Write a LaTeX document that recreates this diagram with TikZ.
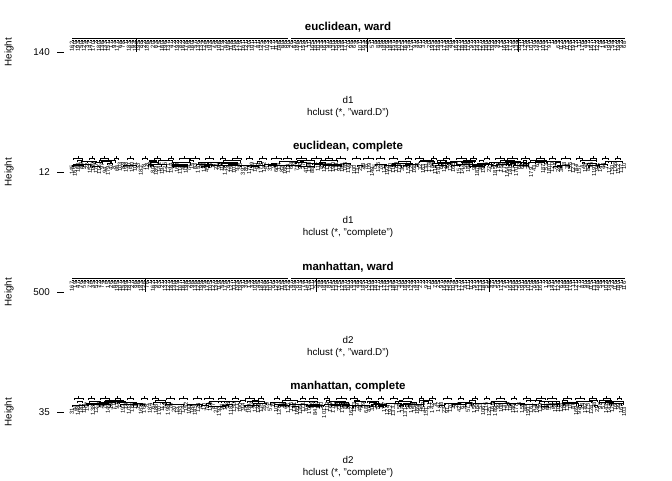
\documentclass[tikz,border=0pt]{standalone}
\usepackage{fontspec}
\setmainfont{Liberation Sans}

\begin{document}
\begin{tikzpicture}[x=1pt,y=-1pt]
            \tikzstyle{maintitle}=[font=\fontsize{11.5}{12}\selectfont\bfseries, inner sep=0pt]
            \tikzstyle{axtext}=[font=\fontsize{9.8}{10}\selectfont, inner sep=0pt]
            \tikzstyle{leaf}=[font=\fontsize{5.8}{6}\selectfont, rotate=90, anchor=east, inner sep=0pt]
            \tikzstyle{dendro}=[line width=0.55pt]

            \useasboundingbox (0,0) rectangle (672,480);
            \pgfmathsetseed{4711}

            % titles and axes
            \foreach \p/\b/\ttl/\dd/\meth/\tk in {1/0/{euclidean, ward}/d1/ward.D/140,
                    2/120/{euclidean, complete}/d1/complete/12,
                    3/240/{manhattan, ward}/d2/ward.D/500,
                    4/360/{manhattan, complete}/d2/complete/35} {
                \node[maintitle] (title\p) at (348,\b+27) {\ttl};
                \node[axtext] (xlab\p) at (348,\b+100) {\dd};
                \node[axtext] (sub\p) at (348,\b+113) {hclust (*, "\meth")};
                \node[axtext, rotate=90] (ylab\p) at (9,\b+52) {Height};
                \node[axtext, anchor=east] (tick\p) at (50,\b+52) {\tk};
                \coordinate (ta\p) at (57,\b+52);
                \coordinate (tb\p) at (64,\b+52);
                \draw[dendro] (ta\p) -- (tb\p);
            }

            % ward trees
            \foreach \p/\b/\va/\vb/\vc in {1/0/136/367/518, 3/240/145/316/489} {
                \draw[dendro, line width=1pt] (72,\b+38) -- (288,\b+38) (291,\b+38) -- (452,\b+38)
                    (455,\b+38) -- (625,\b+38);
                \draw[dendro, dash pattern=on 2pt off 1pt] (72,\b+39.8) -- (624,\b+39.8);
                \foreach \xx in {\va,\vb,\vc}
                    \draw[dendro] (\xx,\b+38) -- (\xx,\b+52);
                \foreach \i in {0,...,184} {
                    \pgfmathsetmacro{\xx}{72+3*\i}
                    \pgfmathtruncatemacro{\num}{1+199*rnd}
                    \node[leaf] (leaf\p-\i) at (\xx,\b+41.5) {\num};
                }
            }

            % complete trees
            \foreach \p/\b in {2/120, 4/360} {
                \foreach \j in {0,...,41} {
                    \pgfmathsetmacro{\cx}{76+13.2*\j+3*rnd}
                    \pgfmathsetmacro{\cw}{4+6*rnd}
                    \draw[dendro] (\cx-\cw/2,\b+39.5) -- (\cx-\cw/2,\b+38) -- (\cx+\cw/2,\b+38) -- (\cx+\cw/2,\b+39.5);
                    \draw[dendro] (\cx,\b+38) -- (\cx,\b+36);
                }
                \foreach \k in {1,...,130} {
                    \pgfmathsetmacro{\sx}{72+540*rnd}
                    \pgfmathsetmacro{\sy}{\b+40+6*rnd}
                    \pgfmathsetmacro{\sl}{2+16*rnd}
                    \draw[dendro] (\sx,\sy+2) |- (\sx+\sl,\sy) -- (\sx+\sl,\sy+2);
                }
                \foreach \i in {0,...,184} {
                    \pgfmathsetmacro{\xx}{72+3*\i}
                    \pgfmathsetmacro{\yy}{\b+42+7*rnd*rnd}
                    \pgfmathtruncatemacro{\num}{1+199*rnd}
                    \node[leaf] (leaf\p-\i) at (\xx,\yy) {\num};
                }
            }
        \end{tikzpicture}
\end{document}
